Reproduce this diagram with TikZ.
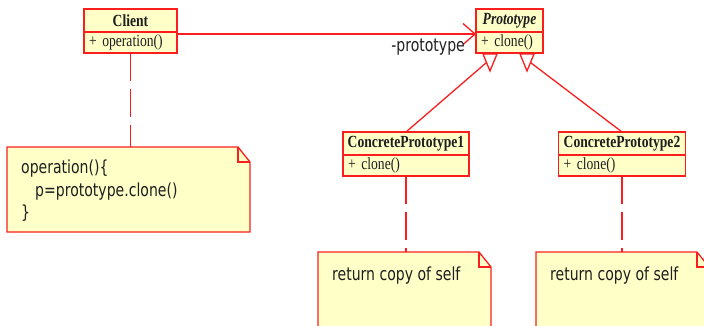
\documentclass[tikz,border=0pt]{standalone}
\usepackage{fontspec}
\usetikzlibrary{arrows.meta, positioning}
\newfontfamily\umlserif{Liberation Serif}[FakeStretch=0.8]
\newfontfamily\umlsans{DejaVu Sans}[FakeStretch=0.78]
\definecolor{umlred}{RGB}{250,30,30}
\definecolor{umlyellow}{RGB}{255,255,200}
\definecolor{umltext}{RGB}{30,30,30}

\begin{document}
\begin{tikzpicture}[x=1pt, y=-1pt,
    umlline/.style={draw=umlred, line width=1.3pt},
    classhead/.style={umlline, fill=umlyellow, minimum width=#1, minimum height=23pt, text=umltext,
      inner sep=0pt, outer sep=0pt, font=\umlserif\bfseries\fontsize{17}{20}\selectfont},
    classops/.style={umlline, fill=umlyellow, text width=#1, minimum height=21pt, align=left, text=umltext,
      inner xsep=5pt, inner ysep=0pt, outer sep=0pt, font=\umlserif\fontsize{17}{20}\selectfont},
    notebox/.style={inner sep=0pt, outer sep=0pt},
    notetext/.style={inner sep=0pt, text=umltext, font=\umlsans\fontsize{18}{22.5}\selectfont},
    dashline/.style={umlline, dash pattern=on 28pt off 8pt}]
  \path[use as bounding box] (0,0) rectangle (704,325);
  \clip (0,0) rectangle (704,325);

  % classes
  \node[classhead=93pt] (client) at (130.5,20.5) {Client};
  \node[classops=83pt, below=0pt of client] (clientops) {+ operation()};
  \node[classhead=67pt] (proto) at (509.5,20.5) {\itshape Prototype};
  \node[classops=57pt, below=0pt of proto] (protoops) {+ clone()};
  \node[classhead=126pt] (cp1) at (406,143.5) {ConcretePrototype1};
  \node[classops=116pt, below=0pt of cp1] (cp1ops) {+ clone()};
  \node[classhead=127pt] (cp2) at (622,143.5) {ConcretePrototype2};
  \node[classops=117pt, below=0pt of cp2] (cp2ops) {+ clone()};

  % notes
  \node[notebox, minimum width=243pt, minimum height=85pt] (codenote) at (128.5,189.5) {};
  \node[notebox, minimum width=173pt, minimum height=96pt] (copynote1) at (404.5,300) {};
  \node[notebox, minimum width=173pt, minimum height=96pt] (copynote2) at (622.5,300) {};
  \foreach \n in {codenote, copynote1, copynote2} {
    \filldraw[umlline, fill=umlyellow] (\n.south west) |- ([xshift=-12pt]\n.north east)
      -- ([yshift=-15pt]\n.north east) -- (\n.south east) -- cycle;
    \draw[umlline] ([xshift=-12pt]\n.north east) |- ([yshift=-15pt]\n.north east);
  }
  \node[notetext, anchor=north west, align=left] (codetext) at ([shift={(14,13)}]codenote.north west)
    {operation()\{\\\hspace{14pt}p=prototype.clone()\\\}};
  \node[notetext, anchor=west] (copytext1) at ([shift={(14,24)}]copynote1.north west) {return copy of self};
  \node[notetext, anchor=west] (copytext2) at ([shift={(14,24)}]copynote2.north west) {return copy of self};

  % association
  \draw[umlline, -{Straight Barb[length=12pt, width=21pt]}]
    ([yshift=-2pt]client.south east) -- ([yshift=-2pt]proto.south west);
  \node[notetext, anchor=east] (rolelabel) at ([shift={(-11,15)}]proto.south west) {-prototype};

  % generalization
  \draw[umlline] (cp1.north) -- ([shift={(-23,9.5)}]protoops.south);
  \draw[umlline] (cp2.north) -- ([shift={(21,9.5)}]protoops.south);
  \draw[umlline, fill=white] ([shift={(-26.5,1)}]protoops.south) -- ++(14,0) -- ++(-7,17) -- cycle;
  \draw[umlline, fill=white] ([shift={(10.5,1)}]protoops.south) -- ++(14,0) -- ++(-7,17) -- cycle;

  % note links
  \draw[dashline] (clientops.south) -- (clientops.south |- codenote.north);
  \draw[dashline] (cp1ops.south) -- (cp1ops.south |- copynote1.north);
  \draw[dashline] (cp2ops.south) -- (cp2ops.south |- copynote2.north);
\end{tikzpicture}
\end{document}
